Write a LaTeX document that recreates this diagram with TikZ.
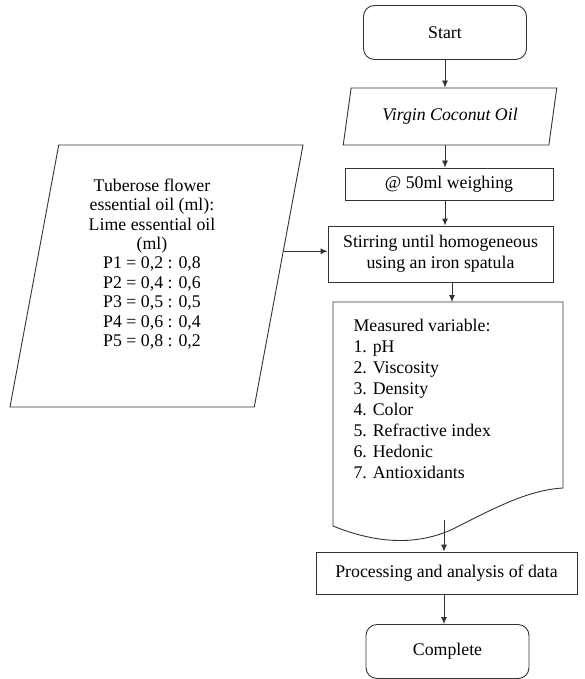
\documentclass[tikz,border=0pt]{standalone}
\usepackage{fontspec}
\setmainfont{Liberation Serif}
\usetikzlibrary{shapes.geometric,arrows.meta}

\tikzset{
  flowline/.style={draw=black!80, line width=0.9pt},
  flowarrow/.style={flowline, -{Latex[length=7pt,width=6pt]}},
  terminal/.style={flowline, rectangle, rounded corners=11pt, minimum width=163pt, minimum height=54pt},
  iobox/.style={flowline, trapezium, trapezium left angle=76, trapezium right angle=104, trapezium stretches=true},
  procbox/.style={flowline, rectangle},
}

\begin{document}
\begin{tikzpicture}[x=1pt,y=-1pt,font=\fontsize{17.8}{21}\selectfont]
  \useasboundingbox (0,0) rectangle (585,679);

  % Main column
  \node[terminal] (start) at (445,32.5) {Start};
  \node[iobox, minimum width=214pt, minimum height=57pt] (vco) at (450,116.5) {\textit{Virgin Coconut Oil}};
  \node[procbox, minimum width=208pt, minimum height=32pt] (weigh) at (449,184) {@ 50ml weighing};
  \node[procbox, minimum width=225pt, minimum height=56pt, align=center] (stir) at (440.5,254) {Stirring until homogeneous\\using an iron spatula};

  % Oil ratios
  \node[iobox, minimum width=293pt, minimum height=262pt] (ratio) at (156.5,276) {};
  \node[align=center, font=\fontsize{17.8}{19.4}\selectfont] (ratiotext) at (152,264) {Tuberose flower\\essential oil (ml):\\Lime essential oil\\(ml)\\P1 = 0,2 : 0,8\\P2 = 0,4 : 0,6\\P3 = 0,5 : 0,5\\P4 = 0,6 : 0,4\\P5 = 0,8 : 0,2};

  % Measured variables (document shape)
  \node[align=left, anchor=north west, font=\fontsize{17.8}{20.9}\selectfont] (vars) at (350,316) {Measured variable:\\1. pH\\2. Viscosity\\3. Density\\4. Color\\5. Refractive index\\6. Hedonic\\7. Antioxidants};
  \draw[flowline] (333,526) -- (333,302) -- (563,302) -- (563,488)
    .. controls (530,490) and (500,505) .. (455,528)
    .. controls (420,545) and (380,545) .. (333,526);
  \coordinate (doctop) at (452,302);
  \coordinate (docbot) at (444,520);

  % End
  \node[procbox, minimum width=261pt, minimum height=42pt] (proc) at (446.5,573) {Processing and analysis of data};
  \node[terminal] (done) at (447.5,651.5) {Complete};

  % Connectors
  \draw[flowarrow] (start.south) -- (start.south |- vco.north);
  \draw[flowarrow] (vco.south -| start) -- (weigh.north -| start);
  \draw[flowarrow] (weigh.south -| start) -- (stir.north -| start);
  \draw[flowarrow] (stir.south -| doctop) -- (doctop);
  \draw[flowarrow] (ratio.11) -- (ratio.11 -| stir.west);
  \draw[flowarrow] (docbot) -- (docbot |- proc.north);
  \draw[flowarrow] (proc.south -| docbot) -- (docbot |- done.north);
\end{tikzpicture}
\end{document}
